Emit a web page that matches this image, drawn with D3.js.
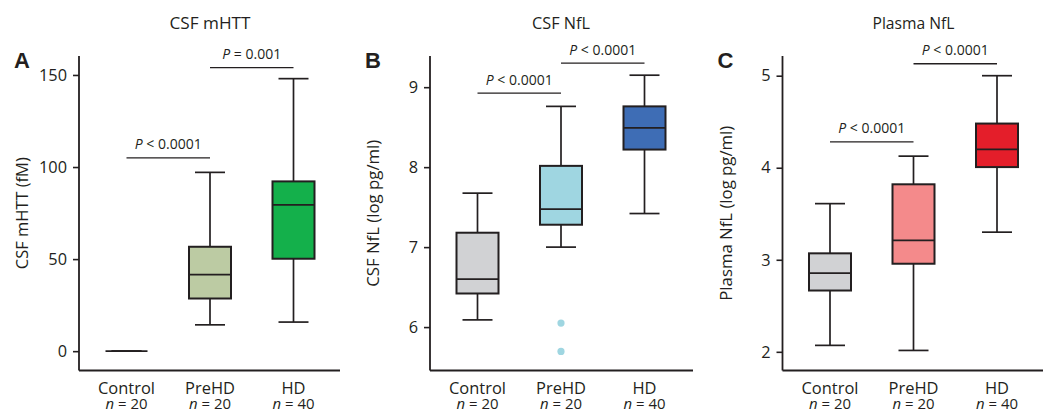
<!DOCTYPE html>
<html><head><meta charset="utf-8">
<script src="https://cdn.jsdelivr.net/npm/d3@7"></script>
<style>
body{margin:0;background:#fff;}
text{font-family:"Open Sans",sans-serif;fill:#231f20;}
</style></head>
<body><svg id="chart" width="1051" height="413"></svg>
<script>
const categories = ["Control", "PreHD", "HD"];
const nLabels = ["20", "20", "40"];
const titles = ["CSF mHTT", "CSF NfL", "Plasma NfL"];
const panelLetters = ["A", "B", "C"];
const yLabels = ["CSF mHTT (fM)", "CSF NfL (log pg/ml)", "Plasma NfL (log pg/ml)"];

// [low whisker, Q1, median, Q3, high whisker]
const mhttStats = [[0, 0, 0, 0, 0], [14.3, 28.6, 41.6, 56.7, 97.1], [15.8, 50.2, 79.5, 92.2, 148]];
const csfNflStats = [[6.09, 6.42, 6.60, 7.18, 7.675], [7.0, 7.28, 7.475, 8.016, 8.76], [7.42, 8.22, 8.49, 8.76, 9.15]];
const plasmaNflStats = [[2.07, 2.666, 2.855, 3.07, 3.61], [2.015, 2.957, 3.21, 3.82, 4.126], [3.30, 4.007, 4.20, 4.48, 5.0]];

const mhttOutliers = [[], [], []];
const csfNflOutliers = [[], [6.05, 5.695], []];
const plasmaNflOutliers = [[], [], []];

const mhttTicks = [0, 50, 100, 150];
const csfNflTicks = [6, 7, 8, 9];
const plasmaNflTicks = [2, 3, 4, 5];

const mhttDomain = [-10.5, 160.3];
const csfNflDomain = [5.457, 9.39];
const plasmaNflDomain = [1.797, 5.214];

// comparisons: [from index, to index, value at bracket, label]
const mhttP = [[0, 1, 105, "< 0.0001"], [1, 2, 154, "= 0.001"]];
const csfNflP = [[0, 1, 8.925, "< 0.0001"], [1, 2, 9.3, "< 0.0001"]];
const plasmaNflP = [[0, 1, 4.28, "< 0.0001"], [1, 2, 5.13, "< 0.0001"]];

const mhttColors = ["#d1d2d4", "#bccba3", "#14b04b"];
const csfNflColors = ["#d1d2d4", "#9fd6e1", "#3e6db5"];
const plasmaNflColors = ["#d1d2d4", "#f48a8b", "#e41e2a"];

const panels = [
  {stats: mhttStats, outliers: mhttOutliers, ticks: mhttTicks, domain: mhttDomain, p: mhttP, colors: mhttColors, axisX: 79, right: 340},
  {stats: csfNflStats, outliers: csfNflOutliers, ticks: csfNflTicks, domain: csfNflDomain, p: csfNflP, colors: csfNflColors, axisX: 430, right: 693},
  {stats: plasmaNflStats, outliers: plasmaNflOutliers, ticks: plasmaNflTicks, domain: plasmaNflDomain, p: plasmaNflP, colors: plasmaNflColors, axisX: 782.5, right: 1043}
];

const svg = d3.select("#chart");
const ink = "#231f20";
const plotTop = 56, plotBottom = 370.5;
const boxW = 42, capW = 30;

// font size that makes a sample string reach a given width
function fitSize(sample, width, italicFirst) {
  const t = svg.append("text").style("font-size", "100px");
  if (italicFirst) { t.append("tspan").style("font-style", "italic").text(sample[0]); t.append("tspan").text(sample.slice(1)); }
  else t.text(sample);
  const w = t.node().getComputedTextLength();
  t.remove();
  return 100 * width / w;
}
const catSize = fitSize("Control", 57);
const nSize = fitSize("n = 20", 42, true);
const tickSize = fitSize("150", 28);
const pSize = fitSize("P < 0.0001", 67, true);
const titleSizes = titles.map((t, i) => fitSize(t, [81, 58, 82][i]));
const yLabSizes = yLabels.map((t, i) => fitSize(t, [112, 147, 175][i]));

panels.forEach((pn, i) => {
  const g = svg.append("g");
  const y = d3.scaleLinear().domain(pn.domain).range([plotBottom, plotTop]);
  const x = d3.scalePoint().domain(categories).range([pn.axisX + 47.5, pn.axisX + 214.5]);

  g.append("text").attr("x", x(categories[1])).attr("y", 28.5).attr("text-anchor", "middle")
    .style("font-size", titleSizes[i] + "px").text(titles[i]);
  g.append("text").attr("x", pn.axisX - 65).attr("y", 68)
    .style("font-size", "22px").style("font-weight", "bold").style("font-family", "Liberation Sans, Arial, sans-serif").text(panelLetters[i]);

  const ya = d3.axisLeft(y).tickValues(pn.ticks).tickSize(6).tickPadding(6).tickFormat(d3.format("d"));
  const yg = g.append("g").attr("transform", `translate(${pn.axisX},0)`).call(ya);
  yg.select(".domain").remove();
  yg.selectAll(".tick line").attr("stroke", ink).attr("stroke-width", 1.6);
  yg.selectAll(".tick text").style("font-size", tickSize + "px").style("font-family", "Open Sans, sans-serif").attr("fill", ink);
  g.append("line").attr("x1", pn.axisX).attr("x2", pn.axisX).attr("y1", plotTop).attr("y2", plotBottom)
    .attr("stroke", ink).attr("stroke-width", 1.8);
  g.append("line").attr("x1", pn.axisX).attr("x2", pn.right).attr("y1", plotBottom).attr("y2", plotBottom)
    .attr("stroke", ink).attr("stroke-width", 1.8);

  g.append("text").attr("transform", `translate(${pn.axisX - 51},${(plotTop + plotBottom) / 2}) rotate(-90)`)
    .attr("text-anchor", "middle").style("font-size", yLabSizes[i] + "px").text(yLabels[i]);

  categories.forEach((c, k) => {
    g.append("text").attr("x", x(c)).attr("y", 393.5).attr("text-anchor", "middle")
      .style("font-size", catSize + "px").text(c);
    const t = g.append("text").attr("x", x(c)).attr("y", 408.5).attr("text-anchor", "middle")
      .style("font-size", nSize + "px");
    t.append("tspan").style("font-style", "italic").text("n");
    t.append("tspan").text(" = " + nLabels[k]);
  });

  pn.stats.forEach((s, k) => {
    const cx = x(categories[k]);
    const bg = g.append("g");
    bg.append("line").attr("x1", cx).attr("x2", cx).attr("y1", y(s[0])).attr("y2", y(s[4]))
      .attr("stroke", ink).attr("stroke-width", 1.7);
    [s[0], s[4]].forEach(v => bg.append("line").attr("x1", cx - capW / 2).attr("x2", cx + capW / 2)
      .attr("y1", y(v)).attr("y2", y(v)).attr("stroke", ink).attr("stroke-width", 1.7));
    bg.append("rect").attr("x", cx - boxW / 2).attr("width", boxW)
      .attr("y", y(s[3])).attr("height", y(s[1]) - y(s[3]))
      .attr("fill", pn.colors[k]).attr("stroke", ink).attr("stroke-width", 2);
    bg.append("line").attr("x1", cx - boxW / 2).attr("x2", cx + boxW / 2)
      .attr("y1", y(s[2])).attr("y2", y(s[2])).attr("stroke", ink).attr("stroke-width", 1.8);
    pn.outliers[k].forEach(v => bg.append("circle").attr("cx", cx).attr("cy", y(v)).attr("r", 3.6)
      .attr("fill", pn.colors[k]));
  });

  pn.p.forEach(([a, b, v, lab]) => {
    const x1 = x(categories[a]), x2 = x(categories[b]);
    g.append("line").attr("x1", x1).attr("x2", x2).attr("y1", y(v)).attr("y2", y(v))
      .attr("stroke", ink).attr("stroke-width", 1.3);
    const t = g.append("text").attr("x", (x1 + x2) / 2).attr("y", y(v) - 8.5).attr("text-anchor", "middle")
      .style("font-size", pSize + "px");
    t.append("tspan").style("font-style", "italic").text("P");
    t.append("tspan").text(" " + lab);
  });
});
</script></body></html>
